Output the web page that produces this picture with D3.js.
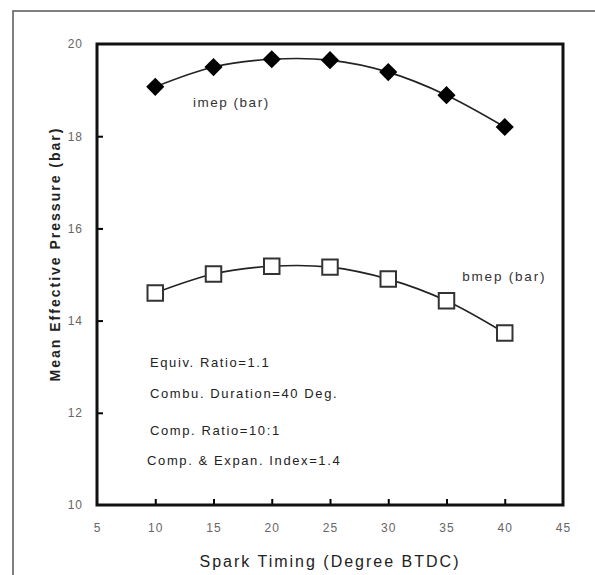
<!DOCTYPE html>
<html>
<head>
<meta charset="utf-8">
<script src="https://cdn.jsdelivr.net/npm/d3@7"></script>
<style>
  html, body { margin: 0; padding: 0; background: #fff; }
  svg { font-family: Arial, "Liberation Sans", sans-serif; display: block; }
</style>
</head>
<body>
<div id="chart"></div>
<script>
// data
const sparkTiming = [10, 15, 20, 25, 30, 35, 40]
const imep = [19.07, 19.5, 19.67, 19.65, 19.39, 18.89, 18.2]
const bmep = [14.6, 15.01, 15.18, 15.16, 14.9, 14.43, 13.73]
const xTicks = [5, 10, 15, 20, 25, 30, 35, 40, 45]
const yTicks = [10, 12, 14, 16, 18, 20]
const notes = ['Equiv. Ratio=1.1', 'Combu. Duration=40 Deg.', 'Comp. Ratio=10:1', 'Comp. & Expan. Index=1.4']
const noteValues = [12.99, 12.32, 11.52, 10.87]   // baseline of each note, in bar

const width = 595, height = 575
const margin = { top: 44, right: 32, bottom: 70, left: 97 }
const innerW = width - margin.left - margin.right
const innerH = height - margin.top - margin.bottom

const svg = d3.select('#chart').append('svg')
  .attr('width', width)
  .attr('height', height)

// 1. outer frame of the scanned figure (only top and left edges show)
svg.append('path')
  .attr('d', `M13,${height} V11 H${width}`)
  .attr('fill', 'none')
  .attr('stroke', '#555')
  .attr('stroke-width', 1.5)

const g = svg.append('g')
  .attr('transform', `translate(${margin.left},${margin.top})`)

// 2. scales
const x = d3.scaleLinear().domain([5, 45]).range([0, innerW])
const y = d3.scaleLinear().domain([10, 20]).range([innerH, 0])

// 3. axes - ticks point inwards, labels grey
const xAxis = g.append('g')
  .attr('transform', `translate(0,${innerH})`)
  .call(d3.axisBottom(x).tickValues(xTicks).tickSize(-6).tickPadding(18).tickFormat(d3.format('d')))
xAxis.selectAll('.tick line').attr('stroke-width', 2).filter(d => d === 5 || d === 45).remove()

const yAxis = g.append('g')
  .call(d3.axisLeft(y).tickValues(yTicks).tickSize(-6).tickPadding(14).tickFormat(d3.format('d')))
yAxis.selectAll('.tick line').attr('stroke-width', 2).filter(d => d === 10 || d === 20).remove()

g.selectAll('.domain').remove()
g.selectAll('.tick text')
  .attr('fill', '#666')
  .style('font-size', '12px')
  .style('letter-spacing', '1px')

// plot box
g.append('rect')
  .attr('width', innerW)
  .attr('height', innerH)
  .attr('fill', 'none')
  .attr('stroke', '#111')
  .attr('stroke-width', 3)

// axis titles
g.append('text')
  .attr('x', innerW / 2)
  .attr('y', innerH + 62)
  .attr('text-anchor', 'middle')
  .attr('fill', '#222')
  .style('font-size', '16px')
  .style('letter-spacing', '2px')
  .text('Spark Timing (Degree BTDC)')

svg.append('text')
  .attr('transform', 'rotate(-90)')
  .attr('x', -254)
  .attr('y', 60)
  .attr('text-anchor', 'middle')
  .attr('fill', '#222')
  .style('font-size', '14px')
  .style('font-weight', 'bold')
  .style('letter-spacing', '2px')
  .text('Mean Effective Pressure (bar)')

// 4. lines
const lineGen = d3.line()
  .x((d, i) => x(sparkTiming[i]))
  .y(d => y(d))
  .curve(d3.curveCatmullRom)

g.append('path')
  .datum(imep)
  .attr('fill', 'none')
  .attr('stroke', '#222')
  .attr('stroke-width', 1.6)
  .attr('d', lineGen)

g.append('path')
  .datum(bmep)
  .attr('fill', 'none')
  .attr('stroke', '#222')
  .attr('stroke-width', 1.6)
  .attr('d', lineGen)

// 5. markers
g.selectAll('.diamond')
  .data(imep)
  .join('path')
  .attr('class', 'diamond')
  .attr('transform', (d, i) => `translate(${x(sparkTiming[i])},${y(d)}) rotate(45)`)
  .attr('d', d3.symbol(d3.symbolSquare, 165))
  .attr('fill', '#000')

g.selectAll('.square')
  .data(bmep)
  .join('path')
  .attr('class', 'square')
  .attr('transform', (d, i) => `translate(${x(sparkTiming[i])},${y(d)})`)
  .attr('d', d3.symbol(d3.symbolSquare, 240))
  .attr('fill', '#fff')
  .attr('stroke', '#333')
  .attr('stroke-width', 2)

// 6. series labels
g.append('text')
  .attr('x', x(13.25))
  .attr('y', y(19.07) + 20)
  .attr('fill', '#333')
  .style('font-size', '13.5px')
  .style('letter-spacing', '1.5px')
  .text('imep (bar)')

g.append('text')
  .attr('x', x(36.35))
  .attr('y', y(14.85))
  .attr('fill', '#333')
  .style('font-size', '13.5px')
  .style('letter-spacing', '1.8px')
  .text('bmep (bar)')

// 7. operating conditions
g.selectAll('.note')
  .data(notes)
  .join('text')
  .attr('class', 'note')
  .attr('x', (d, i) => i === 3 ? x(9.3) : x(9.55))
  .attr('y', (d, i) => y(noteValues[i]))
  .attr('fill', '#222')
  .style('font-size', '13px')
  .style('letter-spacing', '1.6px')
  .text(d => d)
</script>
</body>
</html>
